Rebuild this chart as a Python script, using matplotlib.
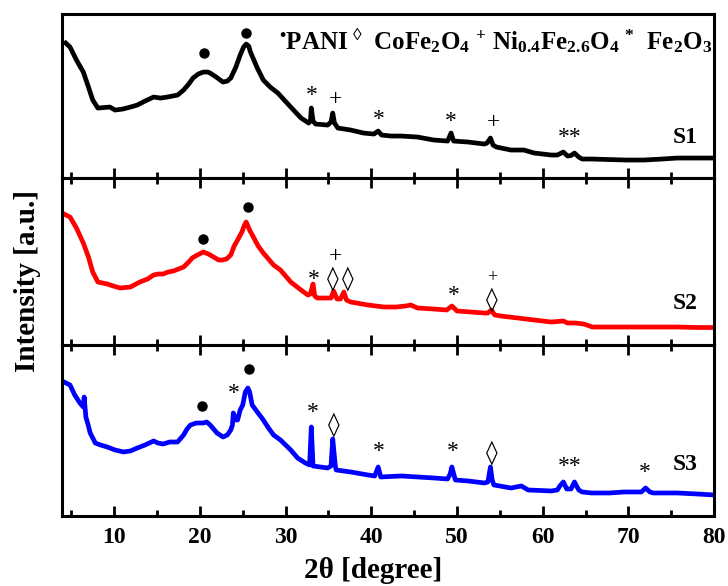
import matplotlib
matplotlib.use("Agg")
import matplotlib.pyplot as plt
from matplotlib.ticker import MultipleLocator

plt.rcParams['font.family'] = ['Liberation Serif', 'DejaVu Serif']
plt.rcParams['mathtext.fontset'] = 'custom'
plt.rcParams['mathtext.rm'] = 'Liberation Serif:bold'
plt.rcParams['mathtext.it'] = 'Liberation Serif:bold'
plt.rcParams['mathtext.bf'] = 'Liberation Serif:bold'

# S1 (black)
s1_2theta = [4.35, 4.85, 5.6, 6.4, 7.0, 7.5, 8.1, 8.8, 9.5, 10.1, 11.0, 11.9, 12.7, 13.6,
             14.6, 15.4, 16.2, 17.4, 18.1, 18.7, 19.2, 19.8, 20.4, 20.9, 21.2, 21.9, 22.7,
             23.2, 23.6, 24.2, 24.7, 25.1, 25.4, 25.7, 25.9, 26.3, 26.7, 27.4, 28.2, 29.1,
             30.6, 31.8, 32.7, 32.9, 33.0, 33.2, 33.5, 34.9, 35.3, 35.5, 35.7, 36.1, 37.6,
             39.1, 40.3, 40.8, 41.2, 42.3, 43.5, 45.4, 47.3, 48.9, 49.3, 49.6, 51.3, 53.2,
             53.5, 53.9, 54.2, 54.6, 56.3, 57.8, 59.0, 61.0, 61.7, 62.4, 62.9, 63.3, 63.7,
             64.2, 64.6, 65.7, 67.7, 69.8, 71.8, 73.9, 75.7, 78.0, 80.0]
s1_int = [135, 131, 118, 106, 91, 78, 70, 70.5, 71, 68, 69, 71, 73, 77,
          81, 80, 81, 83, 88, 94, 100, 104, 106, 106, 105, 101, 96,
          97, 100, 111, 123, 131, 134, 132, 126, 118, 110, 98, 91, 85,
          71, 60, 55, 57, 70, 57, 54, 53, 56, 65, 55, 50, 48,
          45, 44, 47, 43, 42, 42, 41, 38, 37, 45, 37, 36, 34,
          35, 40, 33, 31, 28, 28, 25, 23, 23, 26, 22, 22.5, 25,
          21, 19, 19, 18.5, 18, 18, 19, 20, 20, 20]

# S2 (red)
s2_2theta = [4.15, 4.85, 5.6, 6.4, 7.0, 7.5, 8.1, 9.2, 9.9, 10.7, 11.9, 13.0, 13.9, 14.6,
             15.1, 15.7, 16.3, 16.9, 17.5, 18.1, 18.7, 19.1, 19.7, 20.4, 21.0, 21.6, 22.2,
             22.6, 23.1, 23.6, 24.0, 24.4, 24.9, 25.2, 25.4, 25.8, 26.3, 26.8, 27.4, 28.0,
             28.6, 29.4, 30.6, 31.8, 32.6, 32.9, 33.2, 33.4, 33.7, 35.3, 35.6, 36.0, 36.4,
             36.8, 37.1, 37.6, 39.6, 41.5, 42.9, 44.0, 44.6, 45.4, 47.3, 48.8, 49.4, 50.0,
             51.6, 53.2, 53.6, 54.0, 54.4, 55.1, 57.1, 59.0, 61.0, 62.4, 62.9, 63.8, 64.8,
             65.8, 68.0, 71.8, 75.7, 78.0, 80.0]
s2_int = [131, 128, 117, 102, 88, 73, 63, 61, 59, 57, 58, 63, 66, 70,
          71, 71, 73, 74, 76, 78, 83, 87, 90, 93, 91, 88, 85,
          85, 86, 90, 99, 105, 113, 120, 123, 115, 107, 99, 92, 86,
          80, 75, 63, 55, 50, 51, 61, 49, 47, 47, 54, 46, 46,
          53, 45, 43, 40, 38, 38, 39, 40, 37, 36, 35, 39, 34,
          33, 32, 32, 35, 30, 29, 27, 25, 23, 24, 22, 22, 21,
          18, 18, 18, 18, 17.5, 17.5]

# S3 (blue)
s3_2theta = [4.15, 4.85, 5.4, 6.0, 6.4, 6.5, 6.7, 7.0, 7.2, 7.8, 8.4, 9.2, 10.1, 11.1,
             11.9, 12.7, 13.6, 14.6, 15.1, 15.7, 16.5, 17.4, 18.1, 18.5, 18.9, 19.6, 20.4,
             20.8, 21.2, 21.7, 22.0, 22.7, 23.2, 23.6, 23.8, 23.9, 24.2, 24.4, 24.7, 25.0,
             25.3, 25.6, 25.8, 26.1, 26.7, 27.4, 28.0, 28.6, 29.4, 30.6, 31.4, 32.3, 32.8,
             33.0, 33.2, 34.9, 35.3, 35.5, 35.8, 35.9, 37.6, 39.6, 40.4, 40.8, 41.1, 43.5,
             45.4, 47.3, 48.9, 49.2, 49.4, 49.8, 51.3, 53.2, 53.6, 53.9, 54.1, 54.3, 56.3,
             57.5, 58.3, 61.0, 61.7, 62.0, 62.4, 62.8, 63.3, 63.7, 64.2, 64.6, 65.7, 67.8,
             69.5, 71.5, 72.0, 72.5, 72.9, 75.7, 78.0, 80.0]
s3_int = [134, 131, 121, 113, 109, 119, 99, 90, 83, 73, 71, 69, 66, 64,
          65, 68, 71, 75, 73, 72, 74, 74, 81, 87, 91, 93, 93,
          94, 91, 86, 83, 79, 81, 86, 91, 103, 96, 96, 106, 111,
          124, 128, 124, 111, 104, 96, 88, 81, 76, 66, 58, 53, 51,
          89, 50, 48, 50, 77, 50, 46, 44, 41, 40, 49, 39, 40,
          39, 38, 37, 42, 49, 36, 35, 33, 34, 49, 36, 31, 28,
          30, 26, 25, 26, 30, 34, 27, 27, 34, 26, 24, 23, 23,
          24, 24, 28, 24, 23, 23, 22, 21]

# phase markers per pattern: (2theta, height, symbol)
s1_marks = [(20.5, 125, 'dot'), (25.4, 145, 'dot'), (33.1, 83, '*'), (35.8, 79, '+'),
            (40.9, 59, '*'), (49.3, 57, '*'), (54.3, 55, '+'), (63.1, 41, '**')]
s2_marks = [(20.4, 106, 'dot'), (25.6, 138, 'dot'), (33.3, 66, '*'), (35.8, 88, '+'),
            (35.5, 67, '◊'), (37.3, 67, '◊'), (49.6, 50, '*'), (54.1, 67, '+s'),
            (54.1, 45, '◊')]
s3_marks = [(20.2, 110, 'dot'), (25.7, 147, 'dot'), (24.0, 122, '*'), (33.2, 103, '*'),
            (35.6, 91, '◊'), (40.9, 64, '*'), (49.5, 64, '*'), (54.0, 63, '◊'),
            (63.2, 49, '**'), (71.9, 43, '*')]

samples = ['S1', 'S2', 'S3']
colors = ['black', 'red', 'blue']
panel_heights = [164, 167, 171]

fig, axes = plt.subplots(3, 1, figsize=(7.28, 5.86), dpi=100, sharex=True,
                         gridspec_kw={'height_ratios': panel_heights, 'hspace': 0})
fig.subplots_adjust(left=0.085, right=0.981, top=0.976, bottom=0.1195)

series = [(s1_2theta, s1_int, s1_marks), (s2_2theta, s2_int, s2_marks),
          (s3_2theta, s3_int, s3_marks)]

for i, ax in enumerate(axes):
    x, y, marks = series[i]
    ax.plot(x, y, color=colors[i], lw=3.4, solid_joinstyle='round')
    ax.set_xlim(3.9, 80)
    ax.set_ylim(0, panel_heights[i])
    ax.set_yticks([])
    for sp in ax.spines.values():
        sp.set_linewidth(2.2)
    ax.xaxis.set_major_locator(MultipleLocator(10))
    ax.xaxis.set_minor_locator(MultipleLocator(5))
    ax.tick_params(axis='x', which='both', direction='in', top=(i > 0), width=2)
    ax.tick_params(axis='x', which='major', length=7)
    ax.tick_params(axis='x', which='minor', length=4)
    for mx, my, sym in marks:
        if sym == 'dot':
            ax.plot(mx, my, 'o', color='black', ms=6.5)
        elif sym == '+s':
            ax.text(mx, my, '+', ha='center', va='center', fontsize=13)
        elif sym == '◊':
            ax.text(mx, my, sym, ha='center', va='center', fontsize=17,
                    family=['DejaVu Sans'])
        else:
            ax.text(mx, my, sym, ha='center', va='center', fontsize=17)
    ax.text(0.975, 0.25 if i < 2 else 0.30, samples[i], transform=ax.transAxes,
            ha='right', va='center', fontsize=17, fontweight='bold')

axes[2].tick_params(axis='x', labelsize=17, pad=8)
for lab in axes[2].get_xticklabels():
    lab.set_fontweight('bold')

axes[0].text(0.998, 0.84,
             r'$^{•}$PANI$^{\ ◊}$  CoFe$_2$O$_4$ $^{+}$ Ni$_{0.4}$Fe$_{2.6}$O$_4$ $^{*}$  Fe$_2$O$_3$',
             transform=axes[0].transAxes, ha='right', va='center', fontsize=18,
             fontweight='bold')

fig.text(0.512, 0.026, '2θ [degree]', ha='center', va='center', fontsize=21,
         fontweight='bold')
fig.text(0.038, 0.52, 'Intensity [a.u.]', ha='center', va='center', rotation=90,
         fontsize=21, fontweight='bold')

fig.savefig('out.png', dpi=100)
